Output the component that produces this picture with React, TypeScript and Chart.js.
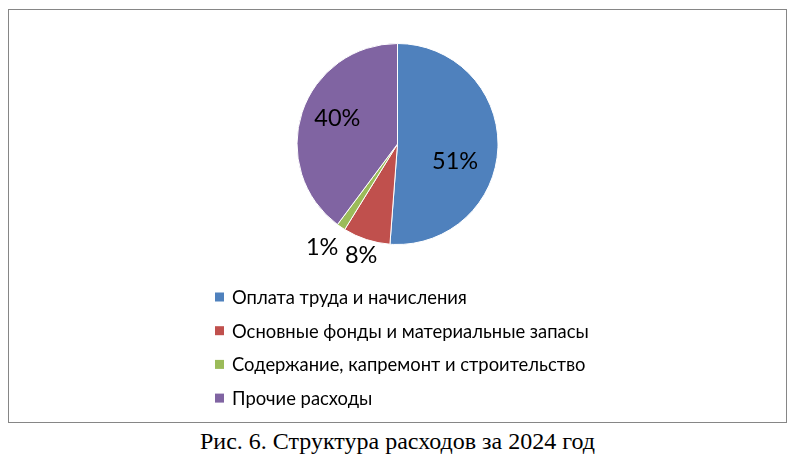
import React, { useEffect, useRef } from "react";
import { Chart, registerables } from "chart.js";

Chart.register(...registerables);

const categories: string[] = [
  "Оплата труда и начисления",
  "Основные фонды и материальные запасы",
  "Содержание, капремонт и строительство",
  "Прочие расходы",
];
const shares: number[] = [51.2, 7.6, 1.4, 39.8];
const percentLabels: string[] = ["51%", "8%", "1%", "40%"];
const colors: string[] = ["#4F81BD", "#C0504D", "#9BBB59", "#8064A2"];
const caption = "Рис. 6. Структура расходов за 2024 год";

// label placement: radius factor and angular shift (deg) from slice mid-angle
const labelRadius = [0.6, 1.17, 1.27, 0.65];
const labelShift = [15, 0, 2, 4.5];

const W = 777;
const H = 412;

const labelPlugin = {
  id: "sliceLabels",
  afterDatasetsDraw(chart: any) {
    const ctx = chart.ctx;
    const meta = chart.getDatasetMeta(0);
    ctx.save();
    ctx.font = "23.5px Lato";
    ctx.fillStyle = "#000";
    ctx.textAlign = "center";
    ctx.textBaseline = "middle";
    meta.data.forEach((arc: any, i: number) => {
      const p = arc.getProps(["x", "y", "startAngle", "endAngle", "outerRadius"], true);
      const mid = (p.startAngle + p.endAngle) / 2 + (labelShift[i] * Math.PI) / 180;
      const r = p.outerRadius * labelRadius[i];
      ctx.fillText(percentLabels[i], p.x + Math.cos(mid) * r, p.y + Math.sin(mid) * r);
    });
    ctx.restore();
  },
};

const legendPlugin = {
  id: "sideLegend",
  afterDraw(chart: any) {
    const ctx = chart.ctx;
    const x0 = 206;
    const y0 = 287;
    const step = 33.7;
    ctx.save();
    ctx.font = "18.4px Lato";
    ctx.textBaseline = "middle";
    ctx.textAlign = "left";
    (chart.data.labels as string[]).forEach((label, i) => {
      const y = y0 + i * step;
      ctx.fillStyle = colors[i];
      ctx.fillRect(x0, y - 4.5, 9, 9);
      ctx.fillStyle = "#000";
      ctx.fillText(label, x0 + 17, y + 1);
    });
    ctx.restore();
  },
};

export default function App() {
  const ref = useRef<HTMLCanvasElement | null>(null);
  useEffect(() => {
    if (!ref.current) return;
    const chart = new Chart(ref.current, {
      type: "pie",
      data: {
        labels: categories,
        datasets: [
          {
            data: shares,
            backgroundColor: colors,
            borderColor: "#ffffff",
            borderWidth: 1,
          },
        ],
      },
      options: {
        animation: false,
        responsive: false,
        devicePixelRatio: 1,
        layout: { padding: { top: 33, bottom: 177, left: 0, right: 0 } },
        plugins: {
          legend: { display: false },
          tooltip: { enabled: false },
        },
      },
      plugins: [labelPlugin, legendPlugin],
    });
    return () => chart.destroy();
  }, []);

  return (
    <div style={{ width: 785, position: "relative" }}>
      <div
        style={{
          marginTop: 1,
          width: W,
          height: H,
          border: "1px solid #868686",
          background: "#fff",
        }}
      >
        <canvas ref={ref} width={W} height={H} style={{ display: "block" }} />
      </div>
      <div
        style={{
          fontFamily: "'Liberation Serif', 'Times New Roman', serif",
          fontSize: 24,
          lineHeight: "28px",
          textAlign: "center",
          width: W + 2,
          marginTop: 4,
          color: "#000",
        }}
      >
        {caption}
      </div>
    </div>
  );
}
